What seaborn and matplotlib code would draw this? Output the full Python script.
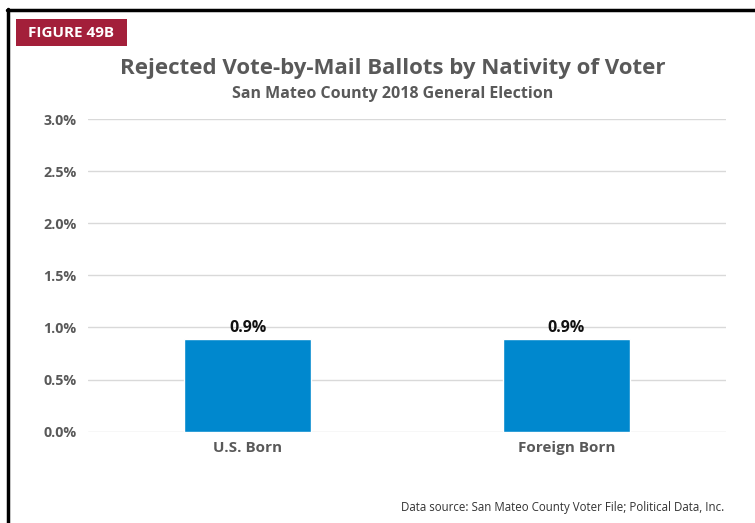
import matplotlib
matplotlib.use("Agg")
import matplotlib.pyplot as plt
import seaborn as sns
import pandas as pd
from matplotlib.lines import Line2D
from matplotlib.patches import Rectangle

categories = ["U.S. Born", "Foreign Born"]
values = [0.89, 0.89]
value_labels = ["0.9%", "0.9%"]
yticks = [0.0, 0.5, 1.0, 1.5, 2.0, 2.5, 3.0]
ytick_labels = ["0.0%", "0.5%", "1.0%", "1.5%", "2.0%", "2.5%", "3.0%"]

sns.set_theme(style="white")
plt.rcParams['font.family'] = ['Open Sans', 'DejaVu Sans']

df = pd.DataFrame({"cat": categories, "val": values})

fig = plt.figure(figsize=(7.55, 5.23), dpi=100)
ax = fig.add_axes([88/755, 1-431.7/523, (726-88)/755, (431.7-119)/523])

sns.barplot(data=df, x="cat", y="val", color="#0088CE", width=0.4, ax=ax, saturation=1, zorder=3)

ax.set_ylim(0, 3.0)
ax.set_yticks(yticks)
ax.set_yticklabels(ytick_labels)
ax.yaxis.grid(True, color="#d9d9d9", linewidth=1, zorder=0)
ax.set_axisbelow(True)
for s in ax.spines.values():
    s.set_visible(False)
ax.set_xlabel("")
ax.set_ylabel("")
ax.tick_params(axis="y", length=0, pad=8, labelsize=10.3, labelcolor="#595959")
ax.tick_params(axis="x", length=0, pad=7, labelsize=11, labelcolor="#595959")
for lab in ax.get_yticklabels() + ax.get_xticklabels():
    lab.set_fontweight("bold")

for p, lab in zip(ax.patches, value_labels):
    ax.text(p.get_x() + p.get_width()/2, p.get_height() + 0.03, lab,
            ha="center", va="bottom", fontsize=11.5, fontweight="bold", color="#111111")

fig.text(393/755, 1-69/523, "Rejected Vote-by-Mail Ballots by Nativity of Voter",
         ha="center", va="center", fontsize=16, fontweight="bold", color="#595959")
fig.text(393/755, 1-94/523, "San Mateo County 2018 General Election",
         ha="center", va="center", fontsize=11.5, fontweight="bold", color="#595959")

fig.patches.append(Rectangle((16/755, 1-46/523), (127-16)/755, 27/523,
                             transform=fig.transFigure, facecolor="#A31F3A", edgecolor="none"))
fig.text(71.5/755, 1-33/523, "FIGURE 49B", ha="center", va="center",
         fontsize=11, fontweight="bold", color="white")

fig.text(724/755, 1-508/523, "Data source: San Mateo County Voter File; Political Data, Inc.",
         ha="right", va="center", fontsize=8.3, color="#333333")

fig.lines.append(Line2D([7.5/755, 7.5/755], [0, 1-9/523], transform=fig.transFigure,
                        color="black", linewidth=2.5))
fig.lines.append(Line2D([6.5/755, 1], [1-9.5/523, 1-9.5/523], transform=fig.transFigure,
                        color="black", linewidth=2.5))

fig.savefig("out.png", dpi=100)
